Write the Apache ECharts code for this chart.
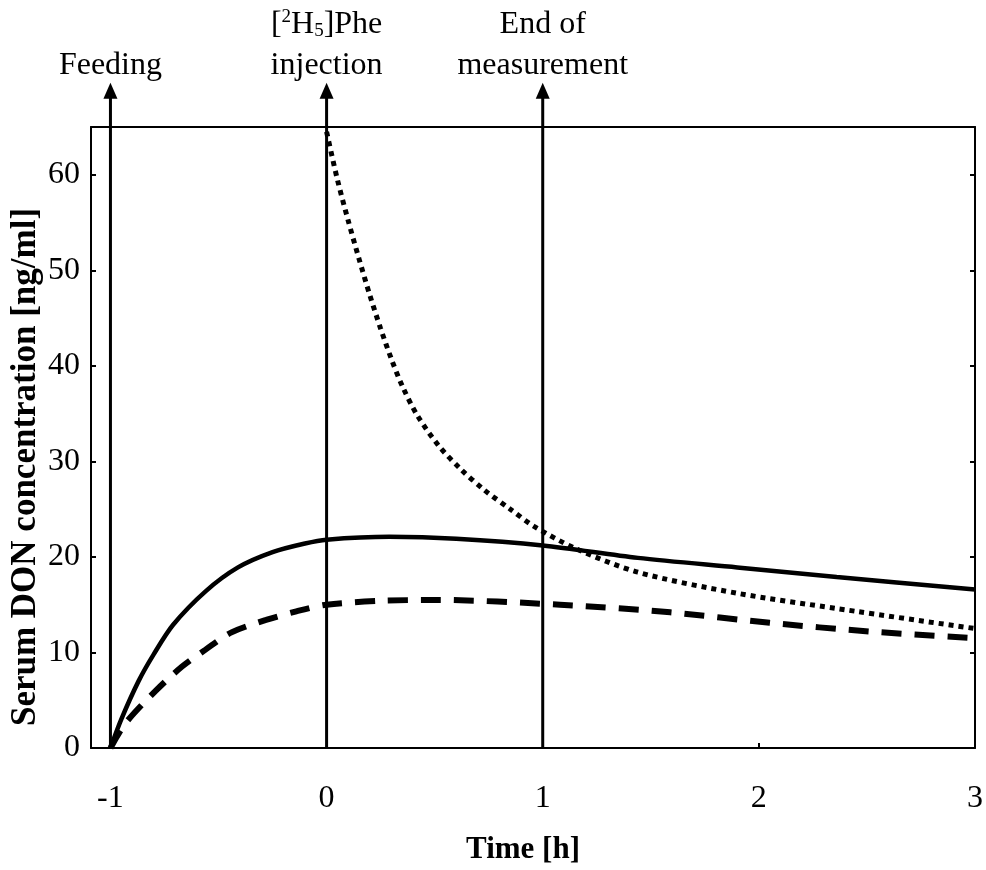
<!DOCTYPE html>
<html>
<head>
<meta charset="utf-8">
<script src="https://cdn.jsdelivr.net/npm/echarts@6/dist/echarts.min.js"></script>
<style>
html,body{margin:0;padding:0;background:#fff;}
#chart{width:986px;height:870px;}
</style>
</head>
<body>
<div id="chart"></div>
<script>
// ---- data ----
var xTicks = [-1, 0, 1, 2, 3];
var yTicks = [0, 10, 20, 30, 40, 50, 60];

var solidT = [-1, -0.95, -0.87, -0.8, -0.71, -0.56, -0.41, -0.25, -0.1, 0, 0.29, 0.6, 1.0, 1.44, 1.9, 2.36, 3.0];
var solidV = [0, 3.0, 7.0, 9.8, 12.9, 16.4, 18.9, 20.5, 21.4, 21.8, 22.1, 21.9, 21.2, 19.9, 18.9, 17.9, 16.6];

var dashedT = [-1, -0.93, -0.79, -0.67, -0.56, -0.44, -0.28, -0.14, 0, 0.25, 0.5, 1.08, 1.59, 2.05, 2.51, 3.0];
var dashedV = [0, 2.6, 6.0, 8.5, 10.3, 12.1, 13.4, 14.3, 15.0, 15.4, 15.5, 15.0, 14.2, 13.1, 12.2, 11.5];

var dottedT = [0, 0.05, 0.1, 0.15, 0.2, 0.25, 0.3, 0.35, 0.42, 0.52, 0.62, 0.73, 0.85, 0.96, 1.15, 1.44, 1.9, 2.36, 3.0];
var dottedV = [64.5, 59.5, 55.2, 51.2, 47.4, 43.9, 40.7, 37.9, 34.8, 31.6, 29.2, 27.0, 25.0, 23.2, 20.9, 18.4, 16.2, 14.6, 12.5];

var eventTimes = [-1, 0, 1];
var eventLabels = [
  '{n|Feeding}',
  '{n|[}{sup|2}{n|H}{sub|5}{n|]Phe}\n{n|injection}',
  '{n|End of}\n{n|measurement}'
];
var arrowTop = 68.8;

// ---- build ----
function pairs(t, v) { return t.map(function (x, i) { return [x, v[i]]; }); }
var FONT = 'Liberation Serif';
var rich = {
  n: { fontFamily: FONT, fontSize: 32, color: '#000', lineHeight: 41 },
  sup: { fontFamily: FONT, fontSize: 19, color: '#000', lineHeight: 41, padding: [0, 0, 14, 0] },
  sub: { fontFamily: FONT, fontSize: 19, color: '#000', lineHeight: 41, padding: [14, 0, 0, 0] }
};

var series = [];
eventTimes.forEach(function (t, i) {
  series.push({
    type: 'line',
    clip: false,
    silent: true,
    symbol: 'triangle',
    symbolSize: [14, 16],
    showSymbol: true,
    z: 5,
    lineStyle: { color: '#000', width: 3 },
    itemStyle: { color: '#000' },
    data: [
      { value: [t, 0], symbol: 'none' },
      {
        value: [t, arrowTop],
        label: {
          show: true, position: 'top', distance: -3,
          formatter: eventLabels[i], rich: rich, align: 'center'
        }
      }
    ]
  });
});
series.push({
  type: 'line', name: 'solid', data: pairs(solidT, solidV), smooth: 0.3,
  symbol: 'none', lineStyle: { color: '#000', width: 4.5, type: 'solid' }, z: 3
});
series.push({
  type: 'line', name: 'dashed', data: pairs(dashedT, dashedV), smooth: 0.3,
  symbol: 'none', lineStyle: { color: '#000', width: 6, type: [20, 13], cap: 'butt' }, z: 3
});
series.push({
  type: 'line', name: 'dotted', data: pairs(dottedT, dottedV), smooth: 0.3,
  symbol: 'none', lineStyle: { color: '#000', width: 5, type: [5, 5], cap: 'butt' }, z: 3
});

var axisLine = { show: true, onZero: false, lineStyle: { color: '#000', width: 2 } };
var labelStyle = { fontFamily: FONT, fontSize: 32, color: '#000' };

var option = {
  backgroundColor: '#fff',
  animation: false,
  grid: { left: 91, right: 7, top: 127, bottom: 115, containLabel: false },
  xAxis: [
    {
      type: 'value', min: -1.09, max: 3, position: 'bottom',
      axisLine: axisLine,
      axisTick: { show: true, inside: true, length: 5, customValues: xTicks, lineStyle: { color: '#000', width: 2 } },
      axisLabel: Object.assign({ customValues: xTicks, margin: 35 }, labelStyle),
      splitLine: { show: false },
      name: 'Time [h]', nameLocation: 'middle', nameGap: 86,
      nameTextStyle: { fontFamily: FONT, fontSize: 31, fontWeight: 'bold', color: '#000', padding: [0, 20, 0, 0] }
    },
    {
      type: 'value', min: -1.09, max: 3, position: 'top',
      axisLine: axisLine, axisTick: { show: false }, axisLabel: { show: false }, splitLine: { show: false }
    }
  ],
  yAxis: [
    {
      type: 'value', min: 0, max: 65, position: 'left',
      axisLine: axisLine,
      axisTick: { show: true, inside: true, length: 5, customValues: yTicks, lineStyle: { color: '#000', width: 2 } },
      axisLabel: Object.assign({ customValues: yTicks, margin: 11, padding: [7, 0, 0, 0] }, labelStyle),
      splitLine: { show: false }
    },
    {
      type: 'value', min: 0, max: 65, position: 'right',
      axisLine: axisLine,
      axisTick: { show: true, inside: true, length: 5, customValues: yTicks, lineStyle: { color: '#000', width: 2 } },
      axisLabel: { show: false }, splitLine: { show: false }
    }
  ],
  graphic: [
    {
      type: 'text', x: 26, y: 467, rotation: Math.PI / 2,
      style: {
        text: 'Serum DON concentration [ng/ml]',
        fontFamily: FONT, fontSize: 35, fontWeight: 'bold', fill: '#000',
        textAlign: 'center', textVerticalAlign: 'middle'
      }
    }
  ],
  series: series
};

var chart = echarts.init(document.getElementById('chart'), null, { renderer: 'canvas' });
chart.setOption(option);
</script>
</body>
</html>
